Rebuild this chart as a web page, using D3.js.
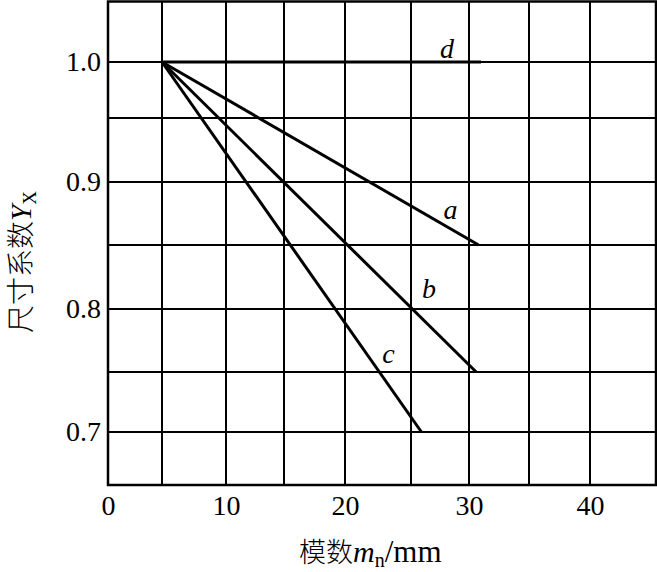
<!DOCTYPE html>
<html>
<head>
<meta charset="utf-8">
<script src="https://cdn.jsdelivr.net/npm/d3@7/dist/d3.min.js"></script>
<style>
html,body{margin:0;padding:0;background:#fff;}
svg{display:block;}
</style>
</head>
<body>
<svg id="chart" width="657" height="572"></svg>
<script>
// ---- data ----
const seriesNames = ["a", "b", "c", "d"];
const startX = [5, 5, 5, 5];
const startY = [1.0, 1.0, 1.0, 1.0];
const endX = [30.8, 30.6, 25.9, 31.0];
const endY = [0.85, 0.75, 0.70, 1.0];
const labelX = [28.4, 26.55, 23.3, 28.1];
const labelY = [0.8706, 0.8086, 0.757, 1.0036];
const xTicks = [0, 10, 20, 30, 40];
const yTicks = [0.7, 0.8, 0.9, 1.0];
const xGrid = [5, 10, 15, 20, 25, 30, 35, 40];
const yGrid = [0.7, 0.75, 0.8, 0.85, 0.9, 0.95, 1.0];

// ---- scales (piecewise to follow the hand-drawn grid) ----
const x = d3.scaleLinear()
  .domain([0, 5, 10, 15, 20, 25, 30, 35, 40, 45])
  .range([108, 162, 226, 284, 345, 411, 469, 529, 590, 656]);
const y = d3.scaleLinear()
  .domain([0.657, 0.7, 0.75, 0.8, 0.85, 0.9, 0.95, 1.0, 1.05])
  .range([485, 432, 372, 309, 245, 182, 118, 62, 1.5]);

const svg = d3.select("#chart");
const serif = "'Liberation Serif','Times New Roman',serif";
const cjk = "'Noto Sans CJK SC','Noto Sans CJK JP',sans-serif";

// grid
svg.append("g").selectAll("line").data(xGrid).join("line")
  .attr("x1", d => x(d)).attr("x2", d => x(d))
  .attr("y1", y(1.05)).attr("y2", y(0.657))
  .attr("stroke", "#000").attr("stroke-width", 2);
svg.append("g").selectAll("line").data(yGrid).join("line")
  .attr("x1", x(0)).attr("x2", x(45))
  .attr("y1", d => y(d)).attr("y2", d => y(d))
  .attr("stroke", "#000").attr("stroke-width", 2);

// frame
svg.append("rect")
  .attr("x", x(0)).attr("y", y(1.05))
  .attr("width", x(45) - x(0)).attr("height", y(0.657) - y(1.05))
  .attr("fill", "none").attr("stroke", "#000").attr("stroke-width", 2.5);

// axes (labels only)
const xAxis = d3.axisBottom(x).tickValues(xTicks).tickSize(0).tickPadding(10).tickFormat(d3.format("d"));
const gx = svg.append("g").attr("transform", `translate(0,${y(0.657)})`).call(xAxis);
gx.select(".domain").remove();
gx.selectAll("text").attr("font-family", serif).attr("font-size", 28).attr("fill", "#000");

const yAxis = d3.axisLeft(y).tickValues(yTicks).tickSize(0).tickPadding(7).tickFormat(d3.format(".1f"));
const gy = svg.append("g").attr("transform", `translate(${x(0)},0)`).call(yAxis);
gy.select(".domain").remove();
gy.selectAll("text").attr("font-family", serif).attr("font-size", 28).attr("fill", "#000");

// lines
const line = d3.line().x(d => x(d[0])).y(d => y(d[1]));
svg.append("g").selectAll("path").data(seriesNames).join("path")
  .attr("d", (d, i) => line([[startX[i], startY[i]], [endX[i], endY[i]]]))
  .attr("fill", "none").attr("stroke", "#000").attr("stroke-width", 3);

// line labels
svg.append("g").selectAll("text").data(seriesNames).join("text")
  .attr("x", (d, i) => x(labelX[i])).attr("y", (d, i) => y(labelY[i]))
  .attr("text-anchor", "middle")
  .attr("font-family", serif).attr("font-style", "italic").attr("font-size", 28)
  .text(d => d);

// x title
const xt = svg.append("text").attr("x", 299).attr("y", 562)
  .attr("font-size", 27).attr("fill", "#000");
xt.append("tspan").attr("font-family", cjk).attr("font-weight", 300).text("模数");
xt.append("tspan").attr("font-family", serif).attr("font-style", "italic").attr("font-size", 30).text("m");
xt.append("tspan").attr("font-family", serif).attr("font-size", 20).attr("dy", 5).text("n");
xt.append("tspan").attr("font-family", serif).attr("font-size", 31).attr("dy", -5).text("/mm");

// y title
const yt = svg.append("text")
  .attr("transform", "translate(31,333) rotate(-90)")
  .attr("font-size", 28).attr("fill", "#000");
yt.append("tspan").attr("font-family", cjk).attr("font-weight", 300).text("尺寸系数");
yt.append("tspan").attr("font-family", serif).attr("font-style", "italic").attr("font-size", 29).text("Y");
yt.append("tspan").attr("font-family", serif).attr("font-size", 19).attr("dy", 5).text("X");
</script>
</body>
</html>
